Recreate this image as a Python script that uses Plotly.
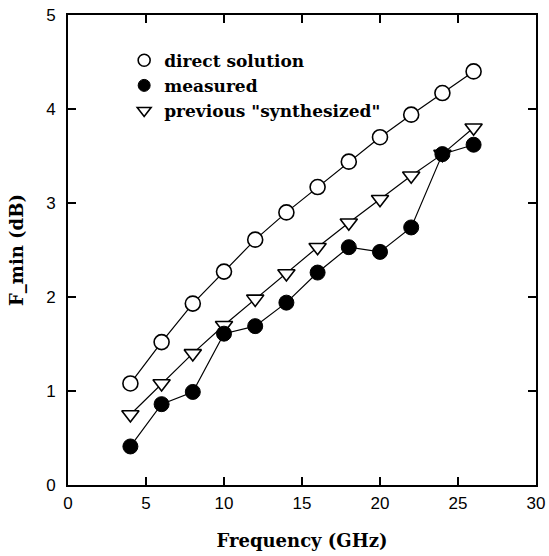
import plotly.graph_objects as go

freq = [4, 6, 8, 10, 12, 14, 16, 18, 20, 22, 24, 26]
direct = [1.08, 1.52, 1.93, 2.27, 2.61, 2.90, 3.17, 3.44, 3.70, 3.94, 4.17, 4.40]
measured = [0.41, 0.86, 0.99, 1.61, 1.69, 1.94, 2.26, 2.53, 2.48, 2.74, 3.52, 3.62]
synth = [0.75, 1.08, 1.40, 1.70, 1.98, 2.25, 2.53, 2.79, 3.04, 3.29, 3.52, 3.80]

names = ["direct solution", "measured", 'previous "synthesized"']
x_ticks = [0, 5, 10, 15, 20, 25, 30]
y_ticks = [0, 1, 2, 3, 4, 5]

serif = "DejaVu Serif, serif"
sans = "Liberation Sans, Arial, sans-serif"

open_circle = dict(symbol="circle", color="white", line=dict(color="black", width=1.6))
filled_circle = dict(symbol="circle", color="black", line=dict(color="black", width=1))
open_tri = dict(symbol="triangle-down", color="white", line=dict(color="black", width=1.6))

fig = go.Figure()
# data traces (measured on top)
for yv, mk in [(direct, open_circle), (synth, open_tri), (measured, filled_circle)]:
    fig.add_trace(go.Scatter(
        x=freq, y=yv, mode="lines+markers", showlegend=False,
        line=dict(color="black", width=1.2),
        marker=dict(size=15, **mk),
    ))
# legend entries (markers only)
for nm, mk in zip(names, [open_circle, filled_circle, open_tri]):
    fig.add_trace(go.Scatter(
        x=[None], y=[None], mode="markers", name=nm,
        marker=dict(size=12, **mk),
    ))

fig.update_layout(
    width=549, height=556,
    margin=dict(l=68, r=13, t=15, b=71),
    paper_bgcolor="white", plot_bgcolor="white",
    showlegend=True,
    legend=dict(
        x=0.12, y=0.941, xanchor="left", yanchor="top",
        bgcolor="rgba(0,0,0,0)", borderwidth=0,
        font=dict(family=serif, size=17, color="black", weight="bold"),
        itemwidth=30, tracegroupgap=0,
    ),
    xaxis=dict(
        range=[0, 30], tickvals=x_ticks, ticktext=[str(v) for v in x_ticks],
        ticks="inside", ticklen=8, tickcolor="black", tickwidth=1.5,
        showline=True, linecolor="black", linewidth=2, mirror="ticks",
        showgrid=False, zeroline=False, ticklabelstandoff=2, automargin=False,
        tickfont=dict(family=sans, size=17, color="black"),
        title=dict(text="Frequency (GHz)", font=dict(family=serif, size=18, color="black", weight="bold"), standoff=22),
    ),
    yaxis=dict(
        range=[0, 5], tickvals=y_ticks, ticktext=[str(v) for v in y_ticks],
        ticks="inside", ticklen=8, tickcolor="black", tickwidth=1.5,
        showline=True, linecolor="black", linewidth=2, mirror="ticks",
        showgrid=False, zeroline=False, ticklabelstandoff=7, automargin=False,
        tickfont=dict(family=sans, size=17, color="black"),
        title=dict(text="F_min (dB)", font=dict(family=serif, size=18, color="black", weight="bold"), standoff=18),
    ),
)

fig.write_html("out.html")
